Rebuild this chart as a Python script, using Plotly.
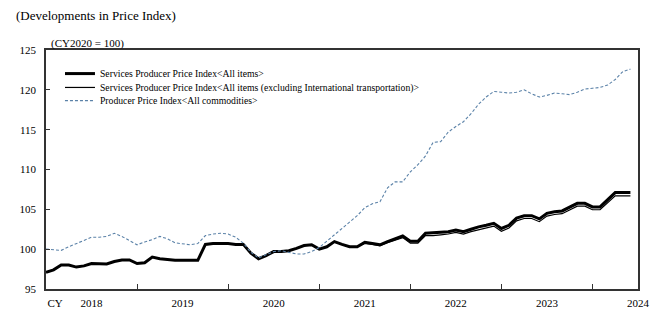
import plotly.graph_objects as go

# Monthly index, Jan 2018 (0) .. Jun 2024 (77)
months = list(range(78))

sppi_all = [97.1, 97.4, 98.0, 98.0, 97.75, 97.9, 98.2, 98.2, 98.15, 98.45, 98.65, 98.65,
            98.2, 98.3, 99.0, 98.8, 98.7, 98.6, 98.6, 98.6, 98.6, 100.6, 100.7, 100.7,
            100.7, 100.6, 100.6, 99.5, 98.8, 99.2, 99.7, 99.7, 99.8, 100.1, 100.45, 100.55,
            100.0, 100.3, 100.95, 100.6, 100.3, 100.3, 100.85, 100.7, 100.55, 100.95, 101.3, 101.65,
            101.0, 101.0, 102.0, 102.05, 102.1, 102.2, 102.4, 102.2, 102.5, 102.8, 103.0, 103.25,
            102.6, 103.0, 103.9, 104.2, 104.2, 103.8, 104.5, 104.7, 104.8, 105.3, 105.75, 105.75,
            105.3, 105.3, 106.2, 107.1, 107.1, 107.1]

sppi_ex_intl = [97.1, 97.4, 98.0, 98.0, 97.75, 97.9, 98.2, 98.2, 98.15, 98.45, 98.65, 98.65,
                98.2, 98.3, 99.0, 98.8, 98.7, 98.6, 98.6, 98.6, 98.6, 100.6, 100.7, 100.7,
                100.7, 100.6, 100.6, 99.5, 98.8, 99.2, 99.7, 99.7, 99.8, 100.1, 100.45, 100.55,
                100.0, 100.3, 100.95, 100.6, 100.3, 100.3, 100.75, 100.6, 100.4, 100.8, 101.15, 101.45,
                100.75, 100.75, 101.7, 101.7, 101.8, 101.9, 102.1, 101.9, 102.2, 102.45, 102.65, 102.9,
                102.25, 102.65, 103.55, 103.85, 103.85, 103.45, 104.15, 104.35, 104.45, 104.95, 105.4, 105.4,
                104.95, 104.95, 105.85, 106.7, 106.7, 106.7]

ppi_all = [100.0, 99.95, 99.85, 100.3, 100.75, 101.1, 101.5, 101.5, 101.6, 102.0, 101.6, 101.1,
           100.55, 100.9, 101.2, 101.6, 101.3, 100.8, 100.7, 100.55, 100.7, 101.7, 101.9, 102.0,
           101.9, 101.5, 100.75, 99.6, 98.9, 99.3, 99.7, 99.8, 99.6, 99.4, 99.4, 99.7,
           100.2, 101.0, 101.8, 102.6, 103.45, 104.2, 105.2, 105.7, 105.95, 107.7, 108.45, 108.45,
           109.7, 110.6, 111.7, 113.4, 113.5, 114.7, 115.4, 116.0, 117.0, 118.2, 119.1, 119.8,
           119.7, 119.6, 119.7, 120.0, 119.5, 119.1, 119.3, 119.6, 119.5, 119.4, 119.7, 120.1,
           120.2, 120.3, 120.6, 121.3, 122.3, 122.6]

series_names = ["Services Producer Price Index<All items>",
                "Services Producer Price Index<All items (excluding International transportation)>",
                "Producer Price Index<All commodities>"]

tick_positions = [1.2, 6, 18, 30, 42, 54, 66, 78]
tick_labels = ["CY", "2018", "2019", "2020", "2021", "2022", "2023", "2024"]
year_boundaries = [12, 24, 36, 48, 60, 72]

SERIF = "Times New Roman, Liberation Serif, serif"


def esc(s):
    return s.replace("<", "&lt;").replace(">", "&gt;")


fig = go.Figure()
fig.add_trace(go.Scatter(x=months, y=sppi_all, mode="lines", name=esc(series_names[0]),
                         line=dict(color="#000000", width=3), legend="legend"))
fig.add_trace(go.Scatter(x=months, y=sppi_ex_intl, mode="lines", name=esc(series_names[1]),
                         line=dict(color="#000000", width=1.2), legend="legend2"))
fig.add_trace(go.Scatter(x=months, y=ppi_all, mode="lines", name=esc(series_names[2]),
                         line=dict(color="#5b82a8", width=1.1, dash="3px,2px"), legend="legend3"))

leg_common = dict(x=0.0236, xanchor="left", yanchor="top", bgcolor="rgba(0,0,0,0)",
                  font=dict(family=SERIF, size=9.7, color="#000000"), itemwidth=30)

fig.update_layout(
    width=666, height=324,
    margin=dict(l=46, r=28, t=50, b=35),
    paper_bgcolor="white", plot_bgcolor="white",
    font=dict(family=SERIF, size=11, color="#000000"),
    showlegend=True,
    legend=dict(y=0.962, **leg_common),
    legend2=dict(y=0.904, **leg_common),
    legend3=dict(y=0.849, **leg_common),
    xaxis=dict(range=[0, 78], showgrid=False, zeroline=False,
               showline=True, linecolor="#333333", linewidth=1.5, mirror=True,
               tickmode="array", tickvals=tick_positions, ticktext=tick_labels,
               ticks="", ticklabelstandoff=3,
               minor=dict(tickmode="array", tickvals=year_boundaries, ticks="inside",
                          ticklen=5, tickcolor="#333333", tickwidth=1)),
    yaxis=dict(range=[95, 125], dtick=5, showgrid=False, zeroline=False,
               showline=True, linecolor="#333333", linewidth=1.5, mirror=True,
               ticks="inside", ticklen=4, tickcolor="#333333", ticklabelstandoff=6),
    annotations=[
        dict(text="(Developments in Price Index)", xref="paper", yref="paper",
             x=-0.054, y=1.146, xanchor="left", yanchor="middle", showarrow=False,
             font=dict(family=SERIF, size=13)),
        dict(text="(CY2020 = 100)", xref="paper", yref="paper",
             x=0.005, y=1.027, xanchor="left", yanchor="middle", showarrow=False,
             font=dict(family=SERIF, size=11)),
    ],
)

fig.write_html("out.html")
